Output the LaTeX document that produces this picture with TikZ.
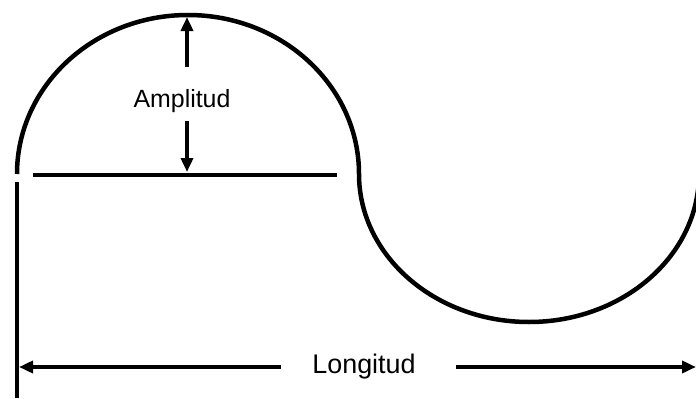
\documentclass[tikz,border=0pt]{standalone}
\usepackage{fontspec}
\setmainfont{Liberation Sans}
\usetikzlibrary{arrows.meta, calc}

\begin{document}
\begin{tikzpicture}[x=1bp, y=1bp,
    wave/.style={line width=4.5bp},
    rule/.style={line width=4bp},
    dimarrow/.style={line width=3.6bp, -{Triangle[length=14bp,width=12bp]}},
    lbl/.style={inner sep=0pt, font=\fontsize{25}{30}\selectfont}]
  \useasboundingbox (0,0) rectangle (696,398);
  \draw[wave] (17,224) arc[start angle=180, end angle=0, x radius=171, y radius=159]
                       arc[start angle=180, end angle=360, x radius=170, y radius=148];
  \draw[rule] (33,223) -- (337,223);
  \draw[rule] (17,216) -- (17,0);
  \coordinate (crest) at (187,381);
  \coordinate (base)  at (187,226);
  \coordinate (lend)  at (19,31);
  \coordinate (rend)  at (696,31);
  \node[lbl, inner ysep=8bp] (amp) at (182,297) {Amplitud};
  \node[lbl, inner xsep=31bp, font=\fontsize{27}{32}\selectfont] (long) at (364,31) {Longitud};
  \draw[dimarrow, shorten <=14bp] (amp.north -| crest) -- (crest);
  \draw[dimarrow] (amp.south -| crest) -- (base);
  \draw[dimarrow] (long) -- (lend);
  \draw[dimarrow, shorten <=9bp] (long) -- (rend);
\end{tikzpicture}
\end{document}
